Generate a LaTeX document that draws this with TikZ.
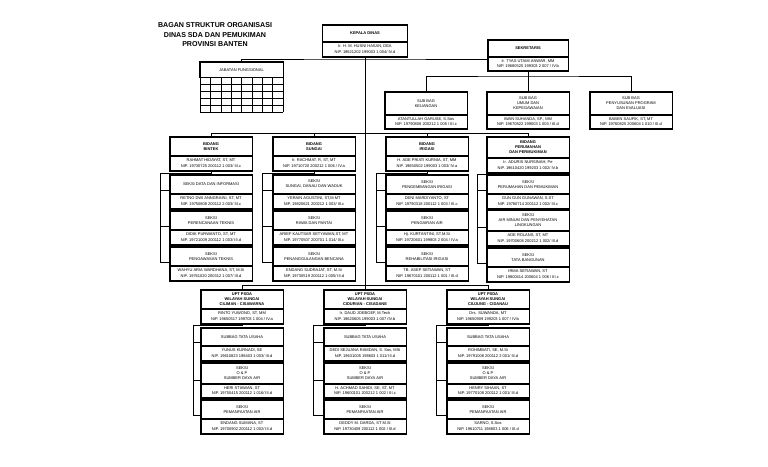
\documentclass[tikz,border=0pt]{standalone}
\usepackage{fontspec}
\setmainfont{Liberation Sans}
\tikzset{
  hdr/.style={draw, line width=0.5pt, inner sep=0pt, align=center, anchor=north,
    font=\fontsize{4}{5}\selectfont},
  hdrb/.style={hdr, font=\fontsize{4}{5}\selectfont\bfseries},
  bdy/.style={draw, line width=0.5pt, inner sep=0pt, align=center, anchor=north,
    font=\fontsize{4}{5.6}\selectfont},
  frame/.style={line width=1.1pt},
  link/.style={line width=0.7pt},
  gridln/.style={line width=0.5pt},
  ttl/.style={align=center, font=\fontsize{7.1}{9.5}\selectfont\bfseries, inner sep=0pt}
}
% #1 name, #2 header style, #3 centre x, #4 top y, #5 width, #6 header height, #7 body height, #8 header, #9 body
\newcommand\obox[9]{%
  \node[#2, minimum width=#5pt, minimum height=#6pt] (#1) at (#3,#4) {#8};
  \node[bdy, minimum width=#5pt, minimum height=#7pt] (#1b) at (#1.south) {#9};
  \draw[frame] (#1.north west) rectangle (#1b.south east);
}
% #1 parent name, #2 connector x, #3 elbow y
\newcommand\branch[3]{%
  \coordinate (#1c) at (#2,#3);
  \coordinate (#1wa) at ([yshift=3pt]#1s1.south west);
  \coordinate (#1wb) at ([yshift=3pt]#1s2.south west);
  \coordinate (#1wc) at ([yshift=3pt]#1s3.south west);
  \draw[link] (#1b.south) |- (#1c) |- (#1wc);
  \draw[link] (#1c |- #1wa) -- (#1wa);
  \draw[link] (#1c |- #1wb) -- (#1wb);
}
\begin{document}
\begin{tikzpicture}[x=1pt, y=-1pt]
\useasboundingbox (0,0) rectangle (768,466);
\fill[white] (0,0) rectangle (768,466);

% title
\node[ttl] (title) at (215,35) {BAGAN STRUKTUR ORGANISASI\\DINAS SDA DAN PEMUKIMAN\\PROVINSI BANTEN};

% top level
\obox{K}{hdrb}{365}{25}{85}{16}{15}{KEPALA DINAS}{Ir. H. M. HUSNI HASAN, DEA\\NIP. 19621202 199003 1 004/ IV.d}
\obox{Sek}{hdrb}{528}{40}{80}{16}{14}{SEKRETARIS}{Ir. TYAS UTAMI ANWAR, MM\\NIP. 19680520 199303 2 007 / IV.b}

% jabatan fungsional
\node[hdr, minimum width=83pt, minimum height=15pt] (JF) at (241.5,62) {JABATAN FUNGSIONAL};
\draw[frame] (JF.north west) rectangle (JF.south east);
\foreach \i in {0,...,8} \draw[gridln] ({200+\i*10.375},77) -- ({200+\i*10.375},112);
\foreach \j in {1,...,5} \draw[gridln] (200,{77+\j*7}) -- (283,{77+\j*7});

% sub bagian
\obox{S1}{hdr}{426}{92}{82}{22}{14}{SUB BAG\\KEUANGAN}{ATANTULLAH GARUSE, S.Sos\\NIP. 19790808 200212 1 005 / III.c}
\obox{S2}{hdr}{528}{92}{82}{22}{14}{SUB BAG\\UMUM DAN\\KEPEGAWAIAN}{IWAN SUHANDA, SP., MM\\NIP. 19670822 199003 1 003 / III.d}
\obox{S3}{hdr}{631}{92}{82}{22}{14}{SUB BAG\\PENYUSUNAN PROGRAM\\DAN EVALUASI}{BABEN SAUFIK, ST, MT\\NIP. 19760825 200604 1 010 / III.d}

% bidang
\obox{B1}{hdrb}{211}{137}{82}{18}{15}{BIDANG\\BINTEK}{RAHMAT HIDAYAT, ST, MT\\NIP. 19730725 200112 1 003/ III.c}
\obox{B2}{hdrb}{314}{137}{82}{18}{15}{BIDANG\\SUNGAI}{Ir. RACHMAT. R, ST, MT\\NIP. 19710720 200212 1 006 / IV.a}
\obox{B3}{hdrb}{427}{137}{82}{18}{15}{BIDANG\\IRIGASI}{H. ADE PRIATI KURNIA, ST, MM\\NIP. 19650502 199003 1 003/ IV.a}
\obox{B4}{hdrb}{528}{137}{82}{20}{15}{BIDANG\\PERUMAHAN\\DAN PERMUKIMAN}{Ir. ADURIS NURSINAH, Pe\\NIP. 19610420 199203 1 002/ IV.b}

% seksi bidang bintek
\obox{B1s1}{hdr}{211}{175}{82}{18}{15}{SEKSI DATA DAN INFORMASI}{RETNO DWI ANNGRAINI, ST, MT\\NIP. 19750808 200112 2 003/ III.c}
\obox{B1s2}{hdr}{211}{211}{82}{18}{15}{SEKSI\\PERENCANAAN TEKNIS}{DIDIK PURWANTO, ST, MT\\NIP. 19721009 200112 1 003/ III.d}
\obox{B1s3}{hdr}{211}{247}{82}{18}{15}{SEKSI\\PENGAWASAN TEKNIS}{WAHYU ARIA WARDHANA, ST, M.Si\\NIP. 19761020 200312 1 007/ III.d}
% seksi bidang sungai
\obox{B2s1}{hdr}{314}{175}{82}{18}{15}{SEKSI\\SUNGAI, DANAU DAN WADUK}{YERAIN AGUSTINI, ST,M.MT\\NIP. 19820621 200212 1 003/ III.c}
\obox{B2s2}{hdr}{314}{211}{82}{18}{15}{SEKSI\\RAWA DAN PANTAI}{ARIEF KAUTSAR SETYAWAN,ST, MT\\NIP. 19770507 200701 1 014/ III.c}
\obox{B2s3}{hdr}{314}{247}{82}{18}{15}{SEKSI\\PENANGGULANGAN BENCANA}{ENDANG SUDRAJAT, ST, M.Si\\NIP. 19730519 200112 1 005/ III.d}
% seksi bidang irigasi
\obox{B3s1}{hdr}{427}{175}{82}{18}{15}{SEKSI\\PENGEMBANGAN IRIGASI}{DENI MARDIYANTO, ST\\NIP. 19790318 200112 1 003 / III.c}
\obox{B3s2}{hdr}{427}{211}{82}{18}{15}{SEKSI\\PENGAIRAN AIR}{Hj. KURTANTINI, ST.M.Si\\NIP. 19720601 199803 2 004 / IV.a}
\obox{B3s3}{hdr}{427}{247}{82}{18}{15}{SEKSI\\REHABILITASI IRIGASI}{TB. ASEP SETIAWAN, ST\\NIP. 19670101 200112 1 001 / III.d}
% seksi bidang perumahan
\obox{B4s1}{hdr}{528}{175}{82}{18}{15}{SEKSI\\PERUMAHAN DAN PEMUKIMAN}{GUN GUN GUNAWAN, S.ST\\NIP. 19780714 200112 1 002/ III.c}
\obox{B4s2}{hdr}{528}{210}{82}{20}{15}{SEKSI\\AIR MINUM DAN PENYEHATAN\\LINGKUNGAN}{ADE ROLANS, ST, MT\\NIP. 19700608 200212 1 002/ III.d}
\obox{B4s3}{hdr}{528}{248}{82}{18}{15}{SEKSI\\TATA BANGUNAN}{IRMA SETIAWAN, ST\\NIP. 19800414 200604 1 006 / III.c}

% UPT
\obox{U1}{hdrb}{242}{290}{82}{18}{15}{UPT PSDA\\WILAYAH SUNGAI\\CILIMAN - CISAWARNA}{RINTO YUWONO, ST, MM\\NIP. 19650517 199703 1 004 / IV.a}
\obox{U2}{hdrb}{365}{290}{82}{18}{15}{UPT PSDA\\WILAYAH SUNGAI\\CIDURIAN - CISADANE}{Ir. DAUD JOEBOEF, M.Tech\\NIP. 19620605 199003 1 007 /IV.b}
\obox{U3}{hdrb}{488}{290}{82}{18}{15}{UPT PSDA\\WILAYAH SUNGAI\\CIUJUNG - CIDANAU}{Drs. SUWANDA, MT\\NIP. 19650909 199203 1 007 / IV.b}

\obox{U1s1}{hdr}{242}{328}{82}{17}{15}{SUBBAG TATA USAHA}{YUNUS KURNADI, SE\\NIP. 19610823 198403 1 003/ III.d}
\obox{U1s2}{hdr}{242}{363}{82}{20}{14}{SEKSI\\O \& P\\SUMBER DAYA AIR}{HERI STIAWAN, ST\\NIP. 19750415 200112 1 016/ III.d}
\obox{U1s3}{hdr}{242}{400}{82}{18}{15}{SEKSI\\PEMANFAATAN AIR}{ENDANG SUMANA, ST\\NIP. 19700902 200112 1 002/ III.d}

\obox{U2s1}{hdr}{365}{328}{82}{17}{15}{SUBBAG TATA USAHA}{DEDI SEJUANA RAMDAN, S. Sos, MSi\\NIP. 19631005 198603 1 011/ III.d}
\obox{U2s2}{hdr}{365}{363}{82}{20}{14}{SEKSI\\O \& P\\SUMBER DAYA AIR}{H. ACHMAD SAHIDI, SE, ST, MT\\NIP. 19600101 200212 1 002 / III.c}
\obox{U2s3}{hdr}{365}{400}{82}{18}{15}{SEKSI\\PEMANFAATAN AIR}{DEDDY M. DARDA, ST M.Si\\NIP. 19730409 200112 1 002 / III.d}

\obox{U3s1}{hdr}{488}{328}{82}{17}{15}{SUBBAG TATA USAHA}{ROHIMBATI, SE, M.Si\\NIP. 19791008 200112 2 001/ III.d}
\obox{U3s2}{hdr}{488}{363}{82}{20}{14}{SEKSI\\O \& P\\SUMBER DAYA AIR}{HENRY SIHAAN, ST\\NIP. 19770108 200112 1 001/ III.d}
\obox{U3s3}{hdr}{488}{400}{82}{18}{15}{SEKSI\\PEMANFAATAN AIR}{SARNO, S.Sos\\NIP. 19610711 198803 1 006 / III.d}

% ---- connectors ----
\coordinate (hj) at (365,59);
\coordinate (hb) at (365,133);
\coordinate (hs) at (528,76);
\coordinate (hu) at (365,285);
% trunk
\draw[link] (Kb.south) -- (U2.north);
% jabatan - sekretariat line
\draw[link] (JF.north) |- (hj) -- (hj -| Sekb.west);
% sub bagian
\draw[link] (Sekb.south) -- (hs);
\draw[link] (S1.north) |- (hs) -| (S3.north);
\draw[link] (S2.north) -- (S2.north |- hs);
% bidang
\draw[link] (B1.north) -- (B1.north |- hb) -- (B4.north |- hb) -- (B4.north);
\draw[link] (B2.north) -- (B2.north |- hb);
\draw[link] (B3.north) -- (B3.north |- hb);
% UPT
\draw[link] (U1.north) -- (U1.north |- hu) -- (U3.north |- hu) -- (U3.north);
% branches
\branch{B1}{160}{173}
\branch{B2}{262}{173}
\branch{B3}{376}{173}
\branch{B4}{477}{174.5}
\branch{U1}{193}{325}
\branch{U2}{313}{325}
\branch{U3}{436}{325}
\end{tikzpicture}
\end{document}
